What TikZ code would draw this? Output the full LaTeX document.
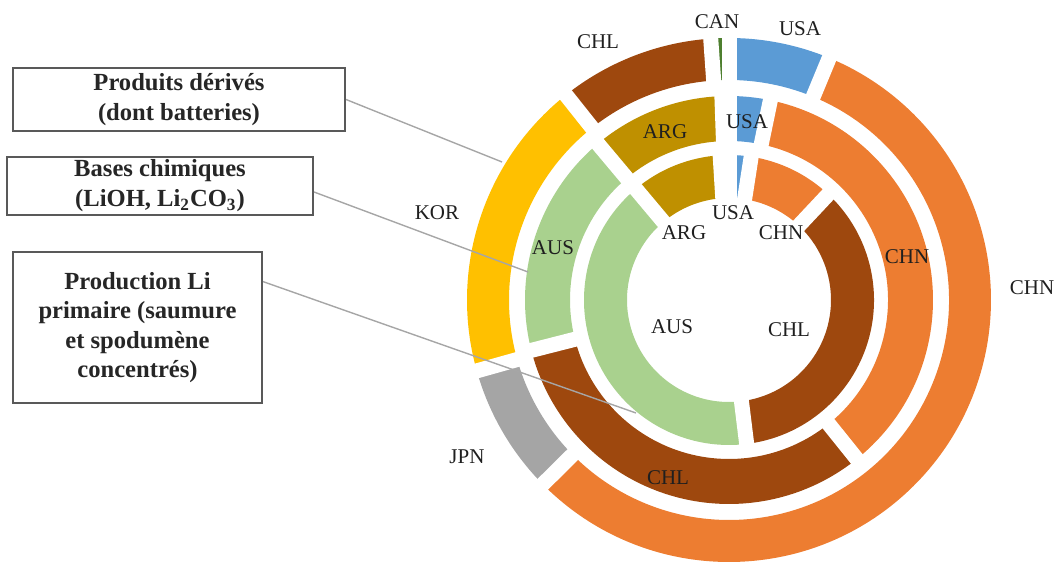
\documentclass[tikz,border=0pt]{standalone}
\usepackage{fontspec}
\setmainfont{Liberation Serif}
\usetikzlibrary{calc}
\definecolor{cUSA}{HTML}{5B9BD5}
\definecolor{cCHN}{HTML}{ED7D31}
\definecolor{cJPN}{HTML}{A5A5A5}
\definecolor{cKOR}{HTML}{FFC000}
\definecolor{cCHL}{HTML}{9E480E}
\definecolor{cCAN}{HTML}{4E7F2F}
\definecolor{cARG}{HTML}{BF9000}
\definecolor{cAUS}{HTML}{A9D18E}
\definecolor{boxline}{HTML}{595959}
\definecolor{connline}{HTML}{A6A6A6}
\newcommand\ringseg[5]{\fill[#1] (#4:#2) arc[start angle=#4,end angle=#5,radius=#2] -- (#5:#3) arc[start angle=#5,end angle=#4,radius=#3] -- cycle;}
\newcommand\ringcut[3]{\draw[white,line width=7.5pt] (#1:#2) -- (#1:#3);}
\tikzset{
  lbl/.style={inner sep=0pt, text=black!88, font=\fontsize{10.5}{12}\selectfont},
  infobox/.style={draw=boxline, line width=1pt, fill=white, inner sep=0pt, align=center, text=black!85,
    font=\bfseries\fontsize{12.3}{15}\selectfont},
  conn/.style={draw=connline, line width=0.7pt}
}
\begin{document}
\begin{tikzpicture}[x=0.5pt,y=0.5pt]
\useasboundingbox (0,0) rectangle (1056,562);
\begin{scope}[shift={(729,262)}]
  % outer ring
  \ringseg{cUSA}{220}{262}{90}{67.5}
  \ringseg{cCHN}{220}{262}{67.5}{-135.3}
  \ringseg{cJPN}{220}{262}{-135.3}{-164.3}
  \ringseg{cKOR}{220}{262}{-164.3}{-231.5}
  \ringseg{cCHL}{220}{262}{-231.5}{-266}
  \ringseg{cCAN}{220}{262}{-266}{-270}
  \foreach \a in {90,67.5,-135.3,-164.3,128.5,94} {\ringcut{\a}{216}{266}}
  % middle ring
  \ringseg{cUSA}{159}{204}{90}{78.3}
  \ringseg{cCHN}{159}{204}{78.3}{-51.2}
  \ringseg{cCHL}{159}{204}{-51.2}{-165.7}
  \ringseg{cAUS}{159}{204}{-165.7}{-230}
  \ringseg{cARG}{159}{204}{-230}{-268}
  \foreach \a in {90,78.3,-51.2,194.3,130,92} {\ringcut{\a}{155}{208}}
  % inner ring
  \ringseg{cUSA}{102}{145}{90}{81.2}
  \ringseg{cCHN}{102}{145}{81.2}{46.8}
  \ringseg{cCHL}{102}{145}{46.8}{-83}
  \ringseg{cAUS}{102}{145}{-83}{-230}
  \ringseg{cARG}{102}{145}{-230}{-266.5}
  \foreach \a in {90,81.2,46.8,-83,130,93.5} {\ringcut{\a}{98}{149}}
\end{scope}

% boxes
\node[infobox, minimum width=166pt, minimum height=31.5pt] (b1) at (179,462.5) {Produits dérivés\\(dont batteries)};
\node[infobox, minimum width=153pt, minimum height=29pt] (b2) at (160,376) {Bases chimiques\\(LiOH, Li\textsubscript{2}CO\textsubscript{3})};
\node[infobox, minimum width=124.5pt, minimum height=75.5pt, font=\bfseries\fontsize{12.3}{14.6}\selectfont] (b3) at (137.5,234.5) {Production Li\\primaire (saumure\\et spodumène\\concentrés)};

% connector ends
\coordinate (c1) at (502,400);
\coordinate (c2) at (528,290);
\coordinate (c3) at (636,149);
\draw[conn] (b1.east) -- (c1);
\draw[conn] ($(b2.north east)!0.6!(b2.south east)$) -- (c2);
\draw[conn] ($(b3.north east)!0.2!(b3.south east)$) -- (c3);

% labels
\node[lbl] (lchlo) at (598,520) {CHL};
\node[lbl] (lcan) at (717,540) {CAN};
\node[lbl] (lusao) at (800,533) {USA};
\node[lbl] (largm) at (665,430) {ARG};
\node[lbl] (lusam) at (747,440) {USA};
\node[lbl] (lkor) at (437,349) {KOR};
\node[lbl] (lausm) at (553,314) {AUS};
\node[lbl] (largi) at (684,329) {ARG};
\node[lbl] (lusai) at (733,349) {USA};
\node[lbl] (lchni) at (781,329) {CHN};
\node[lbl] (lchnm) at (907,305) {CHN};
\node[lbl] (lchno) at (1032,274) {CHN};
\node[lbl] (lausi) at (672,235) {AUS};
\node[lbl] (lchli) at (789,232) {CHL};
\node[lbl] (ljpn) at (467,105) {JPN};
\node[lbl] (lchlm) at (668,84) {CHL};
\end{tikzpicture}
\end{document}
